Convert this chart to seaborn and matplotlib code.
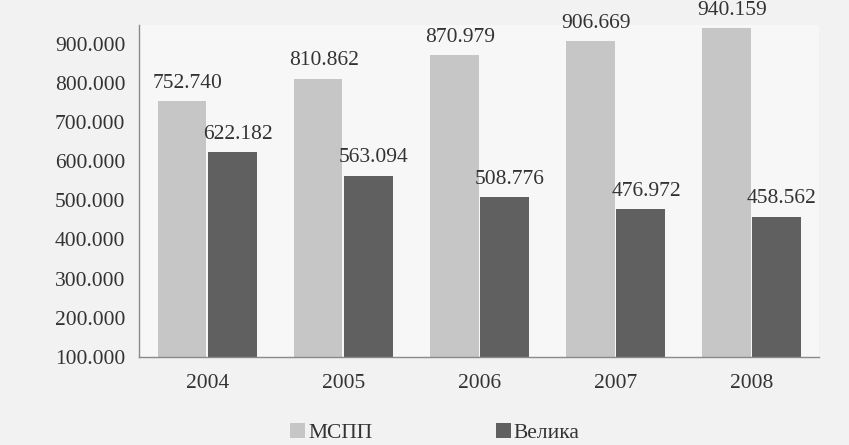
import pandas as pd
import matplotlib.pyplot as plt
import matplotlib.ticker as mticker
import seaborn as sns

years = ["2004", "2005", "2006", "2007", "2008"]
mspp = [752.740, 810.862, 870.979, 906.669, 940.159]
velika = [622.182, 563.094, 508.776, 476.972, 458.562]
series_names = ["МСПП", "Велика"]
colors = ["#c6c6c6", "#606060"]

df = pd.DataFrame({
    "year": years * 2,
    "value": mspp + velika,
    "series": [series_names[0]] * len(years) + [series_names[1]] * len(years),
})

sns.set_style("white")
plt.rcParams['font.family'] = ['Liberation Serif', 'DejaVu Serif']

fig = plt.figure(figsize=(8.49, 4.45), dpi=100, facecolor="#f2f2f2")
ax = fig.add_axes([0.164, 0.198, 0.801, 0.746])
ax.set_facecolor("#f7f7f7")

sns.barplot(data=df, x="year", y="value", hue="series", palette=colors,
            width=0.74, gap=0.03, ax=ax, saturation=1, linewidth=0)

ax.set_ylim(100, 948)
ax.yaxis.set_major_locator(mticker.MultipleLocator(100))
ax.yaxis.set_major_formatter(mticker.FormatStrFormatter("%.3f"))
ax.set_xlabel("")
ax.set_ylabel("")

for spine in ["top", "right"]:
    ax.spines[spine].set_visible(False)
for spine in ["left", "bottom"]:
    ax.spines[spine].set_color("#8a8a8a")
    ax.spines[spine].set_linewidth(1.0)

fs = 15.5
ax.tick_params(axis="y", which="major", direction="inout", length=12, color="#8a8a8a",
               labelsize=fs, labelcolor="#333333", pad=4)
ax.set_xticks([i - 0.5 for i in range(len(years) + 1)], minor=True)
ax.tick_params(axis="x", which="minor", direction="inout", length=12, color="#8a8a8a")
ax.tick_params(axis="x", which="major", length=0, labelsize=fs, labelcolor="#333333", pad=12)
ax.set_xlim(-0.5, len(years) - 0.5)

for container in ax.containers:
    labels = ax.bar_label(container, fmt="%.3f", padding=6, fontsize=fs, color="#333333")
    for lab in labels:
        lab.xyann = (4, lab.xyann[1])

leg = ax.legend(loc="upper center", bbox_to_anchor=(0.435, -0.14), ncol=2, frameon=False,
                fontsize=fs, handlelength=0.7, handleheight=0.7, handletextpad=0.15,
                columnspacing=5.7)
for t in leg.get_texts():
    t.set_color("#333333")

fig.savefig("out.png", dpi=100, facecolor=fig.get_facecolor())
